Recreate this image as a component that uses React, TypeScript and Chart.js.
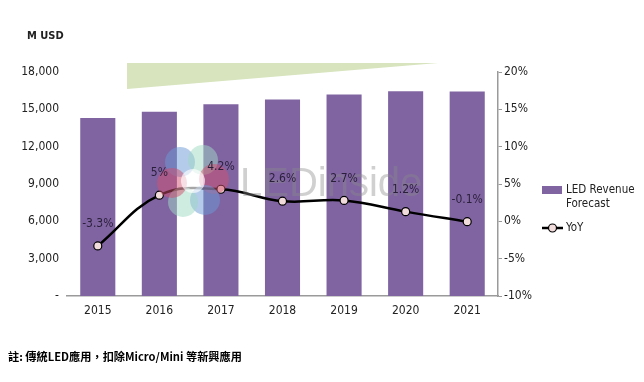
import { useEffect, useRef } from "react";
import { Chart, registerables } from "chart.js";

Chart.register(...registerables);

const years = ["2015", "2016", "2017", "2018", "2019", "2020", "2021"];
const revenue = [14300, 14800, 15400, 15800, 16200, 16450, 16430];
const yoy = [-3.3, 3.5, 4.3, 2.7, 2.8, 1.3, -0.05];
const yoyLabels = ["-3.3%", "5%", "4.2%", "2.6%", "2.7%", "1.2%", "-0.1%"];
const unitLabel = "M USD";
const revenueLegend = ["LED Revenue", "Forecast"];
const yoyLegend = "YoY";
const footnote = "註: 傳統LED應用，扣除Micro/Mini 等新興應用";
const watermark = "LEDinside";

const FONT = '"DejaVu Sans Condensed", "DejaVu Sans", sans-serif';
const PURPLE = "#8064a2";
const TEXT = "#222";

const decorPlugin = {
  id: "decor",
  beforeDatasetsDraw(chart: any) {
    const { ctx } = chart;
    ctx.save();
    ctx.fillStyle = "#d7e4bd";
    ctx.beginPath();
    ctx.moveTo(127, 63);
    ctx.lineTo(438, 63);
    ctx.lineTo(127, 89);
    ctx.closePath();
    ctx.fill();
    ctx.restore();
  },
  afterDatasetsDraw(chart: any) {
    const { ctx } = chart;
    ctx.save();
    const cx = 193, cy = 181;
    const petals = [
      [-13, -19, "#6a9ad6"],
      [10, -21, "#9fdac4"],
      [21, -2, "#d2506e"],
      [12, 19, "#6a9ad6"],
      [-10, 21, "#9fdac4"],
      [-21, 2, "#d2506e"],
    ];
    ctx.globalAlpha = 0.5;
    for (const [dx, dy, c] of petals as any) {
      ctx.fillStyle = c;
      ctx.beginPath();
      ctx.arc(cx + dx, cy + dy, 15, 0, Math.PI * 2);
      ctx.fill();
    }
    ctx.globalAlpha = 0.65;
    ctx.fillStyle = "#ffffff";
    ctx.beginPath();
    ctx.arc(cx, cy, 12, 0, Math.PI * 2);
    ctx.fill();
    ctx.globalAlpha = 0.4;
    ctx.fillStyle = "#8a8a8a";
    ctx.font = '40px "Liberation Sans", Arial, sans-serif';
    ctx.textAlign = "left";
    ctx.textBaseline = "alphabetic";
    ctx.fillText(watermark, 240, 196);
    ctx.restore();

    const meta = chart.getDatasetMeta(1);
    ctx.save();
    ctx.fillStyle = "#2a1f3a";
    ctx.font = `12px ${FONT}`;
    ctx.textAlign = "center";
    ctx.textBaseline = "middle";
    meta.data.forEach((pt: any, i: number) => {
      ctx.fillText(yoyLabels[i], pt.x, pt.y - 22);
    });
    ctx.restore();
  },
  afterDraw(chart: any) {
    const { ctx } = chart;
    ctx.save();
    ctx.fillStyle = TEXT;
    ctx.font = `bold 11px ${FONT}`;
    ctx.textAlign = "left";
    ctx.textBaseline = "middle";
    ctx.fillText(unitLabel, 27, 36);

    ctx.font = `11.5px ${FONT}`;
    ctx.fillStyle = PURPLE;
    ctx.fillRect(542, 186, 20, 8);
    ctx.fillStyle = TEXT;
    ctx.fillText(revenueLegend[0], 566, 190);
    ctx.fillText(revenueLegend[1], 566, 204);
    ctx.strokeStyle = "#000";
    ctx.lineWidth = 2.5;
    ctx.beginPath();
    ctx.moveTo(542, 228);
    ctx.lineTo(563, 228);
    ctx.stroke();
    ctx.fillStyle = "#f2dcdb";
    ctx.lineWidth = 1.2;
    ctx.beginPath();
    ctx.arc(552.5, 228, 4, 0, Math.PI * 2);
    ctx.fill();
    ctx.stroke();
    ctx.fillStyle = TEXT;
    ctx.fillText(yoyLegend, 566, 228);

    ctx.fillStyle = "#000";
    ctx.font = 'bold 11.2px "Noto Sans CJK TC", "Noto Sans CJK SC", sans-serif';
    ctx.fillText(footnote, 8, 357);
    ctx.restore();
  },
};

export default function App() {
  const ref = useRef<HTMLCanvasElement | null>(null);
  useEffect(() => {
    if (!ref.current) return;
    const chart = new Chart(ref.current, {
      type: "bar",
      data: {
        labels: years,
        datasets: [
          {
            type: "bar",
            label: revenueLegend.join(" "),
            data: revenue,
            backgroundColor: PURPLE,
            yAxisID: "y",
            barPercentage: 0.57,
            categoryPercentage: 1,
            order: 2,
          },
          {
            type: "line",
            label: yoyLegend,
            data: yoy,
            yAxisID: "y1",
            borderColor: "#000",
            borderWidth: 2.5,
            tension: 0.4,
            pointRadius: 4,
            pointBorderWidth: 1.2,
            pointBorderColor: "#000",
            pointBackgroundColor: "#f2dcdb",
            order: 1,
          } as any,
        ],
      },
      options: {
        responsive: false,
        animation: false,
        devicePixelRatio: 1,
        layout: { padding: { left: 0, right: 96, top: 72, bottom: 0 } },
        plugins: { legend: { display: false }, tooltip: { enabled: false } },
        scales: {
          x: {
            grid: { display: false, drawTicks: false },
            border: { display: true, color: "#9a9a9a", width: 1.5 },
            ticks: { color: TEXT, font: { family: FONT, size: 12 }, padding: 8 },
            afterFit(s: any) {
              s.height = 86;
            },
          },
          y: {
            position: "left",
            min: 0,
            max: 18000,
            grid: { display: false, drawTicks: false },
            border: { display: false },
            ticks: {
              stepSize: 3000,
              color: TEXT,
              font: { family: FONT, size: 12 },
              padding: 8,
              callback: (v: any) => (v === 0 ? "-" : Number(v).toLocaleString("en-US")),
            },
            afterFit(s: any) {
              s.width = 67;
            },
          },
          y1: {
            position: "right",
            min: -10,
            max: 20,
            grid: { drawOnChartArea: false, drawTicks: true, tickLength: 4, color: "#9a9a9a" },
            border: { display: true, color: "#9a9a9a", width: 1.5 },
            ticks: {
              stepSize: 5,
              color: TEXT,
              font: { family: FONT, size: 12 },
              padding: 2,
              callback: (v: any) => `${v}%`,
            },
            afterFit(s: any) {
              s.width = 50;
            },
          },
        },
      },
      plugins: [decorPlugin],
    });
    return () => chart.destroy();
  }, []);
  return (
    <div style={{ position: "fixed", left: 0, top: 0, width: 644, height: 382, background: "#fff" }}>
      <canvas ref={ref} width={644} height={382} />
    </div>
  );
}
